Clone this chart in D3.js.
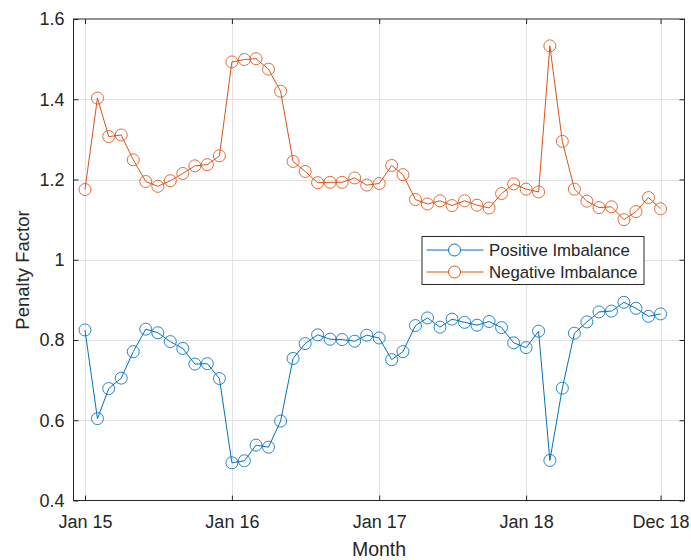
<!DOCTYPE html>
<html>
<head>
<meta charset="utf-8">
<script src="https://cdn.jsdelivr.net/npm/d3@7"></script>
<style>
  html, body { margin: 0; padding: 0; background: #fff; }
  svg { display: block; font-family: "Liberation Sans", Arial, Helvetica, sans-serif; }
</style>
</head>
<body>
<svg id="chart" width="691" height="560"></svg>
<script>
// Monthly penalty factors, Jan 2015 – Dec 2018
const startMonth = new Date(2015, 0, 1);
const months = d3.timeMonth.range(startMonth, new Date(2019, 0, 1));

const positiveImbalance = [
  0.825, 0.604, 0.679, 0.705, 0.771, 0.827, 0.818, 0.796, 0.779, 0.740, 0.741, 0.704,
  0.494, 0.499, 0.538, 0.533, 0.598, 0.754, 0.791, 0.813, 0.802, 0.801, 0.797, 0.812,
  0.805, 0.751, 0.771, 0.836, 0.855, 0.832, 0.852, 0.844, 0.837, 0.846, 0.831, 0.793,
  0.781, 0.822, 0.500, 0.680, 0.817, 0.845, 0.870, 0.872, 0.894, 0.879, 0.859, 0.865
];

const negativeImbalance = [
  1.175, 1.403, 1.307, 1.311, 1.249, 1.195, 1.183, 1.197, 1.215, 1.234, 1.237, 1.259,
  1.493, 1.499, 1.501, 1.475, 1.420, 1.245, 1.220, 1.192, 1.193, 1.193, 1.204, 1.186,
  1.190, 1.235, 1.212, 1.150, 1.139, 1.147, 1.135, 1.147, 1.136, 1.129, 1.165, 1.189,
  1.176, 1.169, 1.533, 1.295, 1.176, 1.146, 1.130, 1.132, 1.100, 1.120, 1.155, 1.127
];

const seriesNames = ["Positive Imbalance", "Negative Imbalance"];
const seriesColors = ["#0072BD", "#D95319"];

const xTickDates = [new Date(2015, 0, 1), new Date(2016, 0, 1), new Date(2017, 0, 1),
                    new Date(2018, 0, 1), new Date(2018, 11, 1)];
const xTickLabels = ["Jan 15", "Jan 16", "Jan 17", "Jan 18", "Dec 18"];
const yTicks = [0.4, 0.6, 0.8, 1.0, 1.2, 1.4, 1.6];
const yTickLabels = ["0.4", "0.6", "0.8", "1", "1.2", "1.4", "1.6"];

const xLabel = "Month";
const yLabel = "Penalty Factor";

// Layout
const plot = { left: 73.5, right: 684.5, top: 19, bottom: 500.5 };
const axisColor = "#262626";
const gridColor = "#e3e3e3";
const tickLen = 5;
const fontStack = "Liberation Sans, Arial, sans-serif";

const svg = d3.select("#chart");

const x = d3.scaleTime()
  .domain([new Date(2014, 11, 3, 12), new Date(2019, 0, 29, 12)])
  .range([plot.left, plot.right]);
const y = d3.scaleLinear()
  .domain([0.4, 1.6])
  .range([plot.bottom, plot.top]);

// Grid
const grid = svg.append("g").attr("class", "grid");
grid.selectAll("line.gx").data(xTickDates).join("line")
  .attr("x1", d => Math.round(x(d)) + 0.5).attr("x2", d => Math.round(x(d)) + 0.5)
  .attr("y1", plot.top).attr("y2", plot.bottom)
  .attr("stroke", gridColor).attr("stroke-width", 1);
grid.selectAll("line.gy").data(yTicks.slice(1, -1)).join("line")
  .attr("y1", d => Math.round(y(d)) + 0.5).attr("y2", d => Math.round(y(d)) + 0.5)
  .attr("x1", plot.left).attr("x2", plot.right)
  .attr("stroke", gridColor).attr("stroke-width", 1);

// Axes
const tickFont = 18;
const xAxis = d3.axisBottom(x)
  .tickValues(xTickDates)
  .tickFormat((d, i) => xTickLabels[i])
  .tickSizeInner(-tickLen).tickSizeOuter(0).tickPadding(15);
const gx = svg.append("g")
  .attr("transform", `translate(0,${plot.bottom})`)
  .call(xAxis);
gx.select(".domain").remove();
gx.selectAll(".tick line").attr("stroke", axisColor);
gx.selectAll(".tick text").attr("fill", axisColor).attr("font-size", tickFont)
  .attr("font-family", fontStack);

const xAxisTop = d3.axisTop(x).tickValues(xTickDates).tickFormat("")
  .tickSizeInner(-tickLen).tickSizeOuter(0);
const gxt = svg.append("g").attr("transform", `translate(0,${plot.top})`).call(xAxisTop);
gxt.select(".domain").remove();
gxt.selectAll(".tick line").attr("stroke", axisColor);

const yAxis = d3.axisLeft(y)
  .tickValues(yTicks)
  .tickFormat((d, i) => yTickLabels[i])
  .tickSizeInner(-tickLen).tickSizeOuter(0).tickPadding(9);
const gy = svg.append("g").attr("transform", `translate(${plot.left},0)`).call(yAxis);
gy.select(".domain").remove();
gy.selectAll(".tick line").attr("stroke", axisColor);
gy.selectAll(".tick text").attr("fill", axisColor).attr("font-size", tickFont)
  .attr("font-family", fontStack);

const yAxisRight = d3.axisRight(y).tickValues(yTicks).tickFormat("")
  .tickSizeInner(-tickLen).tickSizeOuter(0);
const gyr = svg.append("g").attr("transform", `translate(${plot.right},0)`).call(yAxisRight);
gyr.select(".domain").remove();
gyr.selectAll(".tick line").attr("stroke", axisColor);

// Box
svg.append("rect")
  .attr("x", plot.left).attr("y", plot.top)
  .attr("width", plot.right - plot.left).attr("height", plot.bottom - plot.top)
  .attr("fill", "none").attr("stroke", axisColor).attr("stroke-width", 1);

// Axis titles
svg.append("text")
  .attr("x", (plot.left + plot.right) / 2).attr("y", 556)
  .attr("text-anchor", "middle").attr("fill", axisColor)
  .attr("font-size", 19.5).text(xLabel);
svg.append("text")
  .attr("transform", `translate(29,270) rotate(-90)`)
  .attr("text-anchor", "middle").attr("fill", axisColor)
  .attr("font-size", 18.5).text(yLabel);

// Series
const allSeries = [positiveImbalance, negativeImbalance];
const line = d3.line().x((d, i) => x(months[i])).y(d => y(d));

allSeries.forEach((values, s) => {
  const g = svg.append("g").attr("class", "series");
  g.append("path")
    .datum(values)
    .attr("d", line)
    .attr("fill", "none")
    .attr("stroke", seriesColors[s])
    .attr("stroke-width", 1);
  g.selectAll("circle").data(values).join("circle")
    .attr("cx", (d, i) => x(months[i]))
    .attr("cy", d => y(d))
    .attr("r", 6)
    .attr("fill", "none")
    .attr("stroke", seriesColors[s])
    .attr("stroke-width", 1)
    .attr("stroke-opacity", 0.85);
});

// Legend
const legend = svg.append("g").attr("transform", "translate(421.5,236)");
legend.append("rect")
  .attr("x", 0.5).attr("y", 0.5).attr("width", 222).attr("height", 48)
  .attr("fill", "#fff").attr("stroke", axisColor).attr("stroke-width", 1);
seriesNames.forEach((name, s) => {
  const cy = 14 + s * 22;
  legend.append("line")
    .attr("x1", 5).attr("x2", 62).attr("y1", cy).attr("y2", cy)
    .attr("stroke", seriesColors[s]).attr("stroke-width", 1);
  legend.append("circle")
    .attr("cx", 33).attr("cy", cy).attr("r", 6)
    .attr("fill", "#fff").attr("stroke", seriesColors[s]).attr("stroke-width", 1);
  legend.append("text")
    .attr("x", 67.5).attr("y", cy).attr("dy", "0.35em")
    .attr("fill", axisColor).attr("font-size", 16.8).text(name);
});
</script>
</body>
</html>
